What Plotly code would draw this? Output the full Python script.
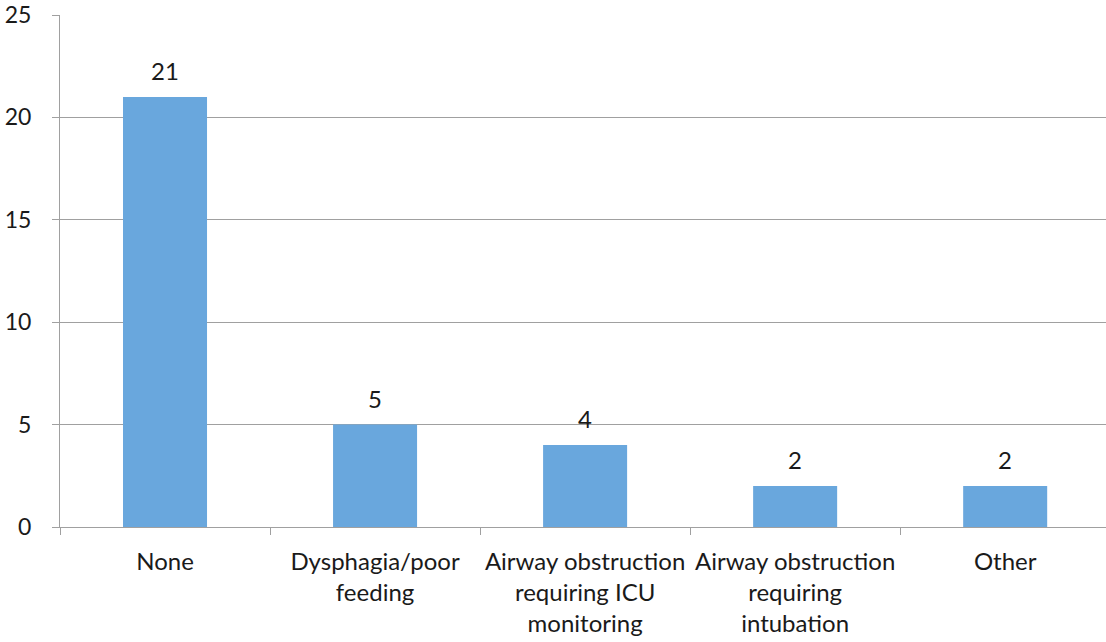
import plotly.graph_objects as go

# Complications and their patient counts
categories = [
    "None",
    "Dysphagia/poor<br>feeding",
    "Airway obstruction<br>requiring ICU<br>monitoring",
    "Airway obstruction<br>requiring<br>intubation",
    "Other",
]
counts = [21, 5, 4, 2, 2]
y_ticks = [0, 5, 10, 15, 20, 25]

FONT = "Lato"
TEXT_COLOR = "#1a1a1a"
GRID_COLOR = "#a0a0a0"
BAR_COLOR = "#69a7dd"

fig = go.Figure()
fig.add_trace(go.Bar(
    x=categories,
    y=counts,
    width=0.4,
    marker=dict(color=BAR_COLOR, line=dict(width=0)),
    hoverinfo="x+y",
))

# value labels above each bar
for cat, val in zip(categories, counts):
    fig.add_annotation(
        x=cat, y=val, text=str(val), showarrow=False,
        yanchor="bottom", yshift=10,
        font=dict(family=FONT, size=24, color=TEXT_COLOR),
    )

fig.update_layout(
    width=1106, height=642,
    margin=dict(l=60, r=0, t=15, b=115),
    paper_bgcolor="white", plot_bgcolor="white",
    showlegend=False,
    font=dict(family=FONT, size=24, color=TEXT_COLOR),
    bargap=0.6,
)
fig.update_xaxes(
    type="category",
    range=[-0.5, 4.48],
    showgrid=False,
    showline=True, linecolor=GRID_COLOR, linewidth=1,
    ticks="outside", tickson="boundaries", ticklen=7, tickcolor=GRID_COLOR,
    ticklabelstandoff=13,
    tickfont=dict(family=FONT, size=24, color=TEXT_COLOR),
)
fig.update_yaxes(
    range=[0, 25],
    tickvals=y_ticks,
    showgrid=True, gridcolor=GRID_COLOR, gridwidth=1,
    showline=True, linecolor=GRID_COLOR, linewidth=1,
    zeroline=False,
    ticks="outside", ticklen=7, tickcolor=GRID_COLOR,
    ticklabelstandoff=16,
    ticklabeloverflow="allow",
    tickfont=dict(family=FONT, size=23, color=TEXT_COLOR),
)

fig.write_html("out.html")
